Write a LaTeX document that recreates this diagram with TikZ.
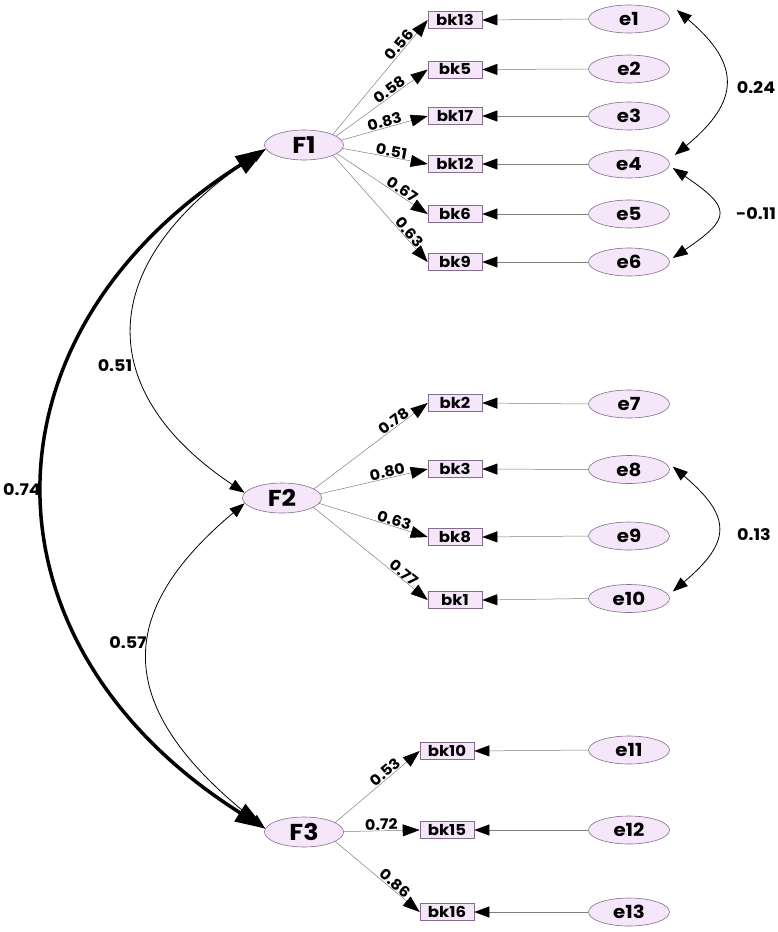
\documentclass[tikz,border=0pt]{standalone}
\usepackage{fontspec}
\setmainfont{Poppins}[FakeStretch=1.1]
\usetikzlibrary{shapes.geometric,arrows.meta}
\pgfdeclarelayer{bg}
\pgfsetlayers{bg,main}
\definecolor{lav}{RGB}{245,230,250}
\definecolor{edgec}{RGB}{130,110,140}
\begin{document}
\begin{tikzpicture}[x=1pt,y=-1pt,
 fac/.style={ellipse,draw=edgec,fill=lav,line width=0.6pt,minimum width=79pt,minimum height=30pt,inner sep=0pt,font=\fontsize{23}{23}\selectfont\bfseries},
 err/.style={ellipse,draw=edgec,fill=lav,line width=0.6pt,minimum width=81pt,minimum height=28pt,inner sep=0pt,font=\fontsize{18}{18}\selectfont\bfseries},
 obs/.style={rectangle,draw=edgec,fill=lav,line width=0.6pt,minimum width=54pt,minimum height=17pt,inner sep=0pt,font=\fontsize{15}{15}\selectfont\bfseries},
 load/.style={draw=gray,line width=0.5pt,-{Triangle[length=17pt,width=12pt,fill=black,color=black]}},
 eline/.style={draw=gray,line width=0.5pt,-{Triangle[length=15pt,width=11pt,fill=black,color=black]}},
 lab/.style={font=\fontsize{14.5}{14.5}\selectfont\bfseries,sloped,above,inner sep=0.5pt},
 cov/.style={line width=0.8pt,{Triangle[length=15pt,width=11pt]}-{Triangle[length=15pt,width=11pt]}},
 bigcov/.style={line width=3.5pt,{Triangle[length=30pt,width=20pt]}-{Triangle[length=30pt,width=20pt]}},
 clab/.style={font=\fontsize{16}{16}\selectfont\bfseries}
]
\useasboundingbox (0,0) rectangle (777,932);

% factors
\node[fac] (F1) at (304,145) {F1};
\node[fac] (F2) at (282,498) {F2};
\node[fac] (F3) at (304,832) {F3};
\coordinate (F1s) at ([xshift=20pt]F1.center);
\coordinate (F2s) at ([xshift=20pt]F2.center);
\coordinate (F3s) at ([xshift=20pt]F3.center);

% observed
\node[obs] (bk13) at (455,20) {bk13};
\node[obs] (bk5) at (455,69.5) {bk5};
\node[obs] (bk17) at (455,116) {bk17};
\node[obs] (bk12) at (455,164) {bk12};
\node[obs] (bk6) at (455,214) {bk6};
\node[obs] (bk9) at (455,262) {bk9};
\node[obs] (bk2) at (455,403) {bk2};
\node[obs] (bk3) at (455,469) {bk3};
\node[obs] (bk8) at (455,537) {bk8};
\node[obs] (bk1) at (455,600) {bk1};
\node[obs] (bk10) at (447,751) {bk10};
\node[obs] (bk15) at (447,830) {bk15};
\node[obs] (bk16) at (447,912) {bk16};

% errors
\node[err] (e1) at (629,19) {e1};
\node[err] (e2) at (629,69) {e2};
\node[err] (e3) at (629,116) {e3};
\node[err] (e4) at (629,164) {e4};
\node[err] (e5) at (629,214) {e5};
\node[err] (e6) at (629,262) {e6};
\node[err] (e7) at (629,404) {e7};
\node[err] (e8) at (629,469.5) {e8};
\node[err] (e9) at (629,536) {e9};
\node[err] (e10) at (629,598.5) {e10};
\node[err] (e11) at (629,750) {e11};
\node[err] (e12) at (629,830) {e12};
\node[err] (e13) at (629,912) {e13};

% loadings (drawn behind the ellipses)
\begin{pgfonlayer}{bg}
\draw[load] (F1s) -- node[lab,pos=0.77] {0.56} (bk13.west);
\draw[load] (F1s) -- node[lab,pos=0.67] {0.58} (bk5.west);
\draw[load] (F1s) -- node[lab,pos=0.60] {0.83} (bk17.west);
\draw[load] (F1s) -- node[lab,pos=0.64] {0.51} (bk12.west);
\draw[load] (F1s) -- node[lab,pos=0.72] {0.67} (bk6.west);
\draw[load] (F1s) -- node[lab,pos=0.78] {0.63} (bk9.west);
\draw[load] (F2s) -- node[lab,pos=0.76] {0.78} (bk2.west);
\draw[load] (F2s) -- node[lab,pos=0.69] {0.80} (bk3.west);
\draw[load] (F2s) -- node[lab,pos=0.72] {0.63} (bk8.west);
\draw[load] (F2s) -- node[lab,pos=0.78] {0.77} (bk1.west);
\draw[load] (F3s) -- node[lab,pos=0.68] {0.53} (bk10.west);
\draw[load] (F3s) -- node[lab,pos=0.60] {0.72} (bk15.west);
\draw[load] (F3s) -- node[lab,pos=0.70] {0.86} (bk16.west);
\end{pgfonlayer}

% error paths
\foreach \e/\b in {e1/bk13,e2/bk5,e3/bk17,e4/bk12,e5/bk6,e6/bk9,e7/bk2,e8/bk3,e9/bk8,e10/bk1,e11/bk10,e12/bk15,e13/bk16}
  \draw[eline] (\e.west) -- (\b.east);

% error covariances
\draw[cov] ([shift={(7,-9)}]e1.east) .. controls +(64,54) and +(66,-54) .. ([shift={(5,-9)}]e4.east);
\node[clab] (c1) at (756,88) {0.24};
\draw[cov] ([shift={(3,4)}]e4.east) .. controls +(59,40) and +(59,-40) .. ([shift={(3,-4)}]e6.east);
\node[clab] (c2) at (756,214) {-0.11};
\draw[cov] ([shift={(3,-3)}]e8.east) .. controls +(59,50) and +(59,-50) .. ([shift={(3,-7)}]e10.east);
\node[clab] (c3) at (754,535) {0.13};

% factor covariances
\draw[bigcov] (F1.186) .. controls +(-292,185) and +(-293,-185) .. (F3.175);
\node[clab] (c4) at (22,490) {0.74};
\draw[cov] (F1.186) .. controls +(-175,115) and +(-150,-100) .. (F2.172);
\node[clab] (c5) at (115,366) {0.51};
\draw[cov] (F2.188) .. controls +(-131,110) and +(-153,-121) .. (F3.175);
\node[clab] (c6) at (128,643) {0.57};
\end{tikzpicture}
\end{document}
